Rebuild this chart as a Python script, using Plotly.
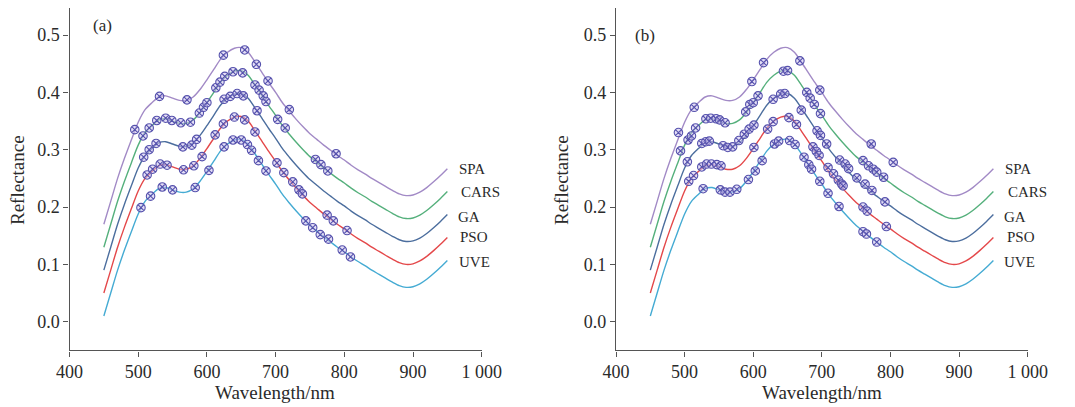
import plotly.graph_objects as go

# Wavelength grid (nm)
wavelength = [450, 460, 470, 480, 490, 500, 510, 520, 530, 540, 550, 560, 570, 580, 590,
              600, 610, 620, 630, 640, 650, 660, 670, 680, 690, 700, 710, 720, 730, 740,
              750, 760, 770, 780, 790, 800, 810, 820, 830, 840, 850, 860, 870, 880, 890,
              900, 910, 920, 930, 940, 950]

spa = [0.170, 0.210, 0.250, 0.285, 0.317, 0.348, 0.370, 0.382, 0.392, 0.394, 0.390, 0.386, 0.386,
       0.392, 0.405, 0.422, 0.440, 0.458, 0.470, 0.477, 0.478, 0.470, 0.453, 0.435, 0.417, 0.400,
       0.382, 0.367, 0.353, 0.340, 0.328, 0.318, 0.308, 0.299, 0.290, 0.282, 0.273, 0.265, 0.258,
       0.250, 0.243, 0.236, 0.229, 0.223, 0.220, 0.221, 0.226, 0.234, 0.244, 0.255, 0.267]
cars = [0.130, 0.170, 0.210, 0.245, 0.277, 0.308, 0.330, 0.342, 0.352, 0.354, 0.350, 0.346, 0.346,
        0.352, 0.365, 0.382, 0.400, 0.418, 0.430, 0.437, 0.438, 0.430, 0.413, 0.395, 0.377, 0.360,
        0.342, 0.327, 0.313, 0.300, 0.288, 0.278, 0.268, 0.259, 0.250, 0.242, 0.233, 0.225, 0.218,
        0.210, 0.203, 0.196, 0.189, 0.183, 0.180, 0.181, 0.186, 0.194, 0.204, 0.215, 0.227]
ga = [0.090, 0.130, 0.170, 0.205, 0.237, 0.268, 0.290, 0.302, 0.312, 0.314, 0.310, 0.306, 0.306,
      0.312, 0.325, 0.342, 0.360, 0.378, 0.390, 0.397, 0.398, 0.390, 0.373, 0.355, 0.337, 0.320,
      0.302, 0.287, 0.273, 0.260, 0.248, 0.238, 0.228, 0.219, 0.210, 0.202, 0.193, 0.185, 0.178,
      0.170, 0.163, 0.156, 0.149, 0.143, 0.140, 0.141, 0.146, 0.154, 0.164, 0.175, 0.187]
pso = [0.050, 0.090, 0.130, 0.165, 0.197, 0.228, 0.250, 0.262, 0.272, 0.274, 0.270, 0.266, 0.266,
       0.272, 0.285, 0.302, 0.320, 0.338, 0.350, 0.357, 0.358, 0.350, 0.333, 0.315, 0.297, 0.280,
       0.262, 0.247, 0.233, 0.220, 0.208, 0.198, 0.188, 0.179, 0.170, 0.162, 0.153, 0.145, 0.138,
       0.130, 0.123, 0.116, 0.109, 0.103, 0.100, 0.101, 0.106, 0.114, 0.124, 0.135, 0.147]
uve = [0.010, 0.050, 0.090, 0.125, 0.157, 0.188, 0.210, 0.222, 0.232, 0.234, 0.230, 0.226, 0.226,
       0.232, 0.245, 0.262, 0.280, 0.298, 0.310, 0.317, 0.318, 0.310, 0.293, 0.275, 0.257, 0.240,
       0.222, 0.207, 0.193, 0.180, 0.168, 0.158, 0.148, 0.139, 0.130, 0.122, 0.113, 0.105, 0.098,
       0.090, 0.083, 0.076, 0.069, 0.063, 0.060, 0.061, 0.066, 0.074, 0.084, 0.095, 0.107]

methods = ["SPA", "CARS", "GA", "PSO", "UVE"]
line_colors = ["#a28ac6", "#55b07c", "#4c6e9e", "#e4484a", "#45abd3"]

# Selected wavelengths (markers), panel (a)
a_spa_x = [495, 531, 571, 624, 655, 672, 689, 720, 788]
a_spa_y = [0.335, 0.393, 0.387, 0.465, 0.474, 0.449, 0.420, 0.370, 0.293]
a_cars_x = [507, 516, 527, 540, 549, 562, 576, 589, 595, 600, 613, 619, 626, 638, 652, 670, 676, 682, 686, 703, 714, 758, 766, 776]
a_cars_y = [0.324, 0.338, 0.351, 0.355, 0.351, 0.347, 0.348, 0.364, 0.374, 0.382, 0.408, 0.418, 0.428, 0.436, 0.434, 0.413, 0.404, 0.394, 0.384, 0.353, 0.338, 0.283, 0.274, 0.263]
a_ga_x = [508, 516, 526, 565, 578, 585, 625, 634, 644, 653, 673]
a_ga_y = [0.287, 0.300, 0.311, 0.305, 0.308, 0.318, 0.388, 0.393, 0.398, 0.394, 0.368]
a_pso_x = [513, 521, 532, 542, 566, 581, 593, 612, 624, 640, 655, 670, 702, 712, 725, 734, 739, 775, 784, 804]
a_pso_y = [0.256, 0.266, 0.275, 0.273, 0.265, 0.272, 0.288, 0.326, 0.345, 0.357, 0.352, 0.331, 0.277, 0.260, 0.244, 0.230, 0.223, 0.186, 0.176, 0.159]
a_uve_x = [504, 518, 535, 550, 583, 603, 625, 638, 650, 659, 665, 675, 686, 744, 754, 765, 777, 797, 809]
a_uve_y = [0.199, 0.219, 0.235, 0.230, 0.234, 0.264, 0.305, 0.317, 0.317, 0.309, 0.299, 0.281, 0.263, 0.176, 0.164, 0.152, 0.144, 0.125, 0.113]

# Selected wavelengths (markers), panel (b)
b_spa_x = [491, 514, 598, 615, 668, 697, 772, 804]
b_spa_y = [0.330, 0.374, 0.419, 0.452, 0.455, 0.404, 0.310, 0.278]
b_cars_x = [494, 505, 510, 516, 531, 538, 546, 551, 559, 589, 595, 600, 607, 644, 650, 678, 683, 689, 698, 760, 768, 775, 780, 790]
b_cars_y = [0.298, 0.317, 0.324, 0.338, 0.354, 0.355, 0.354, 0.352, 0.347, 0.366, 0.379, 0.382, 0.394, 0.437, 0.438, 0.400, 0.390, 0.379, 0.363, 0.281, 0.272, 0.266, 0.261, 0.252]
b_ga_x = [504, 525, 531, 536, 556, 563, 570, 579, 587, 594, 601, 629, 640, 646, 670, 693, 698, 707, 726, 734, 739, 751, 763, 773, 792]
b_ga_y = [0.279, 0.311, 0.314, 0.315, 0.307, 0.304, 0.305, 0.316, 0.327, 0.336, 0.343, 0.388, 0.397, 0.398, 0.369, 0.333, 0.325, 0.310, 0.282, 0.275, 0.267, 0.251, 0.240, 0.229, 0.209]
b_pso_x = [506, 513, 525, 532, 539, 547, 553, 601, 621, 629, 652, 663, 687, 692, 696, 709, 717, 724, 729, 731, 760, 766, 794]
b_pso_y = [0.245, 0.255, 0.270, 0.275, 0.275, 0.274, 0.272, 0.304, 0.336, 0.349, 0.356, 0.344, 0.305, 0.297, 0.290, 0.269, 0.258, 0.247, 0.240, 0.237, 0.200, 0.193, 0.166]
b_uve_x = [527, 552, 559, 566, 576, 593, 603, 613, 631, 637, 653, 661, 674, 681, 685, 697, 709, 725, 760, 765, 780]
b_uve_y = [0.232, 0.230, 0.226, 0.226, 0.231, 0.248, 0.263, 0.281, 0.310, 0.315, 0.316, 0.309, 0.287, 0.274, 0.266, 0.245, 0.224, 0.201, 0.157, 0.153, 0.139]

x_ticks = [400, 500, 600, 700, 800, 900, 1000]
x_ticktext = ["400", "500", "600", "700", "800", "900", "1 000"]
y_ticks = [0.0, 0.1, 0.2, 0.3, 0.4, 0.5]
y_ticktext = ["0.0", "0.1", "0.2", "0.3", "0.4", "0.5"]

# label anchor points (data coords) for method names at right of curves
a_label_x = [964, 967, 962, 965, 964]
b_label_x = [964, 968, 962, 967, 963]
label_y = [0.267, 0.2256, 0.183, 0.147, 0.1035]

series = [spa, cars, ga, pso, uve]
a_marks = [(a_spa_x, a_spa_y), (a_cars_x, a_cars_y), (a_ga_x, a_ga_y), (a_pso_x, a_pso_y), (a_uve_x, a_uve_y)]
b_marks = [(b_spa_x, b_spa_y), (b_cars_x, b_cars_y), (b_ga_x, b_ga_y), (b_pso_x, b_pso_y), (b_uve_x, b_uve_y)]

SERIF = "Liberation Serif, Times New Roman, serif"
TXT = "#2a2a2a"
MARK_LINE = "#5652ad"
MARK_FILL = "rgba(205,195,238,0.55)"

fig = go.Figure()
for (xa, ya) in [("x", "y"), ("x2", "y2")]:
    for name, vals, col in zip(methods, series, line_colors):
        fig.add_trace(go.Scatter(x=wavelength, y=vals, mode="lines", name=name,
                                 line=dict(color=col, width=1.4, shape="spline", smoothing=0.8),
                                 xaxis=xa, yaxis=ya, showlegend=False, hoverinfo="skip"))

for marks, xa, ya in [(a_marks, "x", "y"), (b_marks, "x2", "y2")]:
    for name, (mx, my) in zip(methods, marks):
        fig.add_trace(go.Scatter(x=mx, y=my, mode="markers", name=name + " selected",
                                 marker=dict(symbol="circle-x", size=8.5, color=MARK_FILL,
                                             line=dict(width=1.1, color=MARK_LINE)),
                                 xaxis=xa, yaxis=ya, showlegend=False))

W, H = 1075, 407
OFF = 8  # page body margin in the browser


def fx(px):
    return (px - OFF) / W


def fy(py):
    return 1 - (py - OFF) / H


axis_common = dict(showline=True, linecolor="#555555", linewidth=1.4, ticks="outside",
                   ticklen=5, tickwidth=1.4, tickcolor="#555555", showgrid=False, zeroline=False,
                   tickfont=dict(family=SERIF, size=18, color=TXT), mirror=False, automargin=False)

y_top = 0.55 - 1.6 / 573.3
fig.update_layout(
    template="none",
    width=W, height=H,
    margin=dict(l=0, r=0, t=0, b=0, pad=0),
    paper_bgcolor="white", plot_bgcolor="white",
    xaxis=dict(domain=[fx(69.5), fx(481.7)], range=[400, 1000], tickvals=x_ticks, ticktext=x_ticktext,
               anchor="y", **axis_common),
    yaxis=dict(domain=[fy(350.4), 1], range=[-0.05, y_top], tickvals=y_ticks,
               ticktext=y_ticktext, anchor="x", **axis_common),
    xaxis2=dict(domain=[fx(616), fx(1027.7)], range=[400, 1000], tickvals=x_ticks, ticktext=x_ticktext,
                anchor="y2", **axis_common),
    yaxis2=dict(domain=[fy(350.4), 1], range=[-0.05, y_top], tickvals=y_ticks,
                ticktext=y_ticktext, anchor="x2", **axis_common),
)

ann = []
for xr, yr, lx in [("x", "y", a_label_x), ("x2", "y2", b_label_x)]:
    for name, x0, y0 in zip(methods, lx, label_y):
        ann.append(dict(x=x0, y=y0, xref=xr, yref=yr, text=name, showarrow=False, xanchor="left",
                        yanchor="middle", font=dict(family=SERIF, size=15, color=TXT)))
ann.append(dict(x=432, y=0.517, xref="x", yref="y", text="(a)", showarrow=False, xanchor="left",
                yanchor="middle", font=dict(family=SERIF, size=17, color=TXT)))
ann.append(dict(x=425, y=0.500, xref="x2", yref="y2", text="(b)", showarrow=False, xanchor="left",
                yanchor="middle", font=dict(family=SERIF, size=17, color=TXT)))
for cx in [18, 562]:
    ann.append(dict(x=fx(cx), y=fy(180), xref="paper", yref="paper", text="Reflectance", textangle=-90,
                    showarrow=False, xanchor="center", yanchor="middle",
                    font=dict(family=SERIF, size=19, color=TXT)))
for cx in [275, 822]:
    ann.append(dict(x=fx(cx), y=fy(392), xref="paper", yref="paper", text="Wavelength/nm",
                    showarrow=False, xanchor="center", yanchor="middle",
                    font=dict(family=SERIF, size=19, color=TXT)))
fig.update_layout(annotations=ann)

fig.write_html("out.html")
